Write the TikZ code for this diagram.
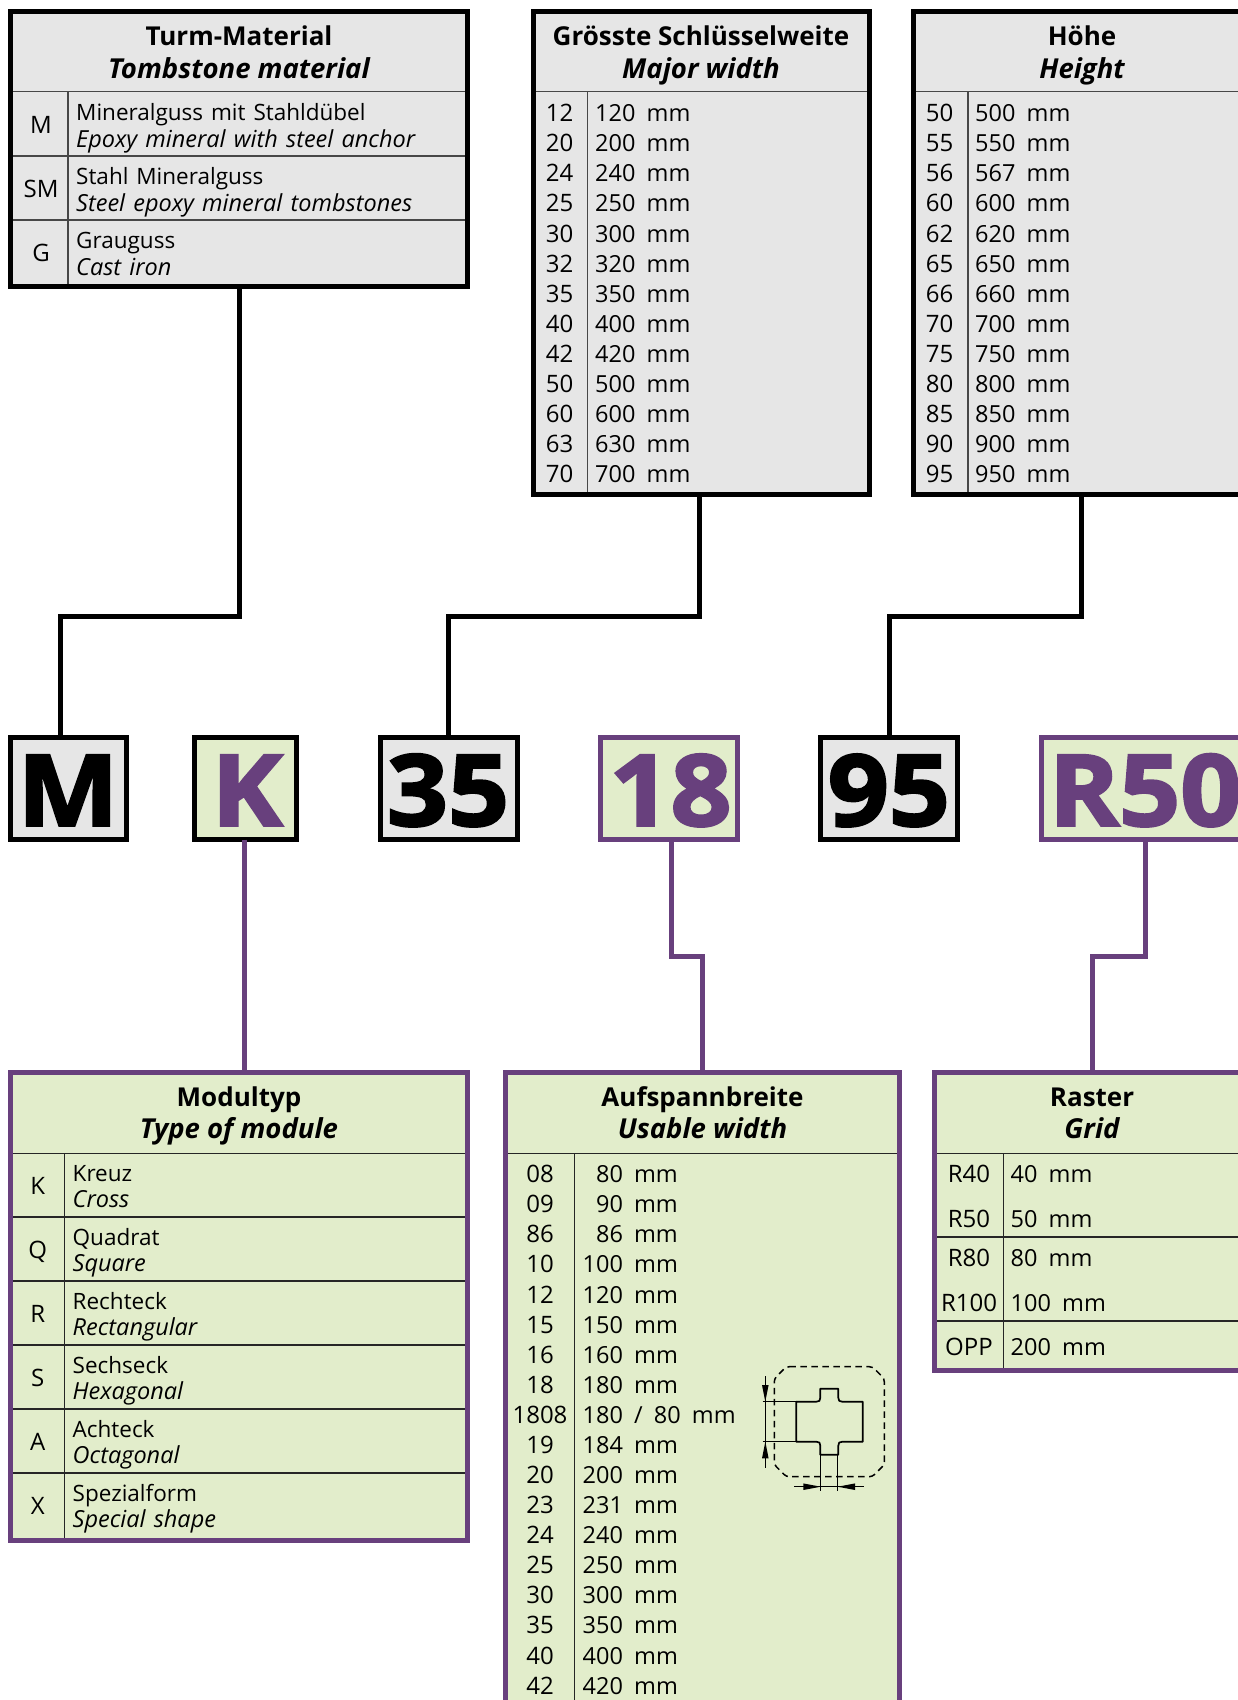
\documentclass[tikz,border=0pt]{standalone}
\usepackage{fontspec}
\setmainfont{Open Sans}
\newfontfamily\heavyfont[BoldFeatures={FakeBold=2.5,FakeStretch=1.08}]{Open Sans}
\newfontfamily\numfont[WordSpace=1.5]{Open Sans}
\newfontfamily\descfont[WordSpace=1.35]{Open Sans}
\usetikzlibrary{calc}
\definecolor{greyfill}{HTML}{E6E6E6}
\definecolor{greenfill}{HTML}{E2EDCB}
\definecolor{purp}{HTML}{68407D}
\tikzset{
  greybox/.style={rectangle,draw=black,fill=greyfill,line width=5pt,inner sep=0pt,outer sep=0pt},
  greenbox/.style={rectangle,draw=purp,fill=greenfill,line width=5pt,inner sep=0pt,outer sep=0pt},
  conblack/.style={draw=black,line width=5pt,line join=miter},
  conpurp/.style={draw=purp,line width=5pt,line join=miter},
  rulegrey/.style={draw=black!72,line width=1.3pt},
  rulegreen/.style={draw=black!85,line width=1.1pt},
  titletxt/.style={anchor=base,inner sep=0pt,yshift=-1pt,font=\fontsize{26}{30}\selectfont\bfseries},
  titleit/.style={anchor=base,inner sep=0pt,yshift=-1pt,font=\fontsize{27.5}{30}\selectfont\bfseries\itshape},
  keytxt/.style={anchor=base,inner sep=0pt,yshift=-1pt,font=\fontsize{24}{27}\selectfont},
  numtxt/.style={anchor=base west,inner sep=0pt,yshift=-1pt,font=\numfont\fontsize{23.5}{27}\selectfont},
  valtxt/.style={anchor=base west,inner sep=0pt,yshift=-1pt,font=\descfont\fontsize{22.5}{27}\selectfont},
  valit/.style={anchor=base west,inner sep=0pt,yshift=-1pt,font=\descfont\fontsize{23.5}{27}\selectfont\itshape},
  bigtxt/.style={anchor=base,inner sep=0pt,font=\fontsize{99}{110}\selectfont\heavyfont\bfseries},
  shapeline/.style={draw=black,line width=1.7pt},
  thinline/.style={draw=black,line width=0.9pt},
  arrowfill/.style={fill=black,draw=none},
}
\begin{document}
\begin{tikzpicture}[x=1pt,y=-1pt]
\useasboundingbox (0,0) rectangle (1238,1700);
\clip (0,0) rectangle (1238,1700);

% upper tables
\node[greybox,minimum width=457pt,minimum height=275pt] (turm) at (239,149) {};
\node[greybox,minimum width=335.5pt,minimum height=482.5pt] (gross) at (701.25,252.75) {};
\node[greybox,minimum width=338pt,minimum height=482.5pt] (hoehe) at (1082,252.75) {};
% lower tables
\node[greenbox,minimum width=457pt,minimum height=468pt] (modul) at (239,1306.5) {};
\node[greenbox,minimum width=393.4pt,minimum height=687.5pt] (auf) at (702.5,1416.25) {};
\node[greenbox,minimum width=315.5pt,minimum height=298pt] (raster) at (1092.25,1221.5) {};

% code boxes
\node[greybox,minimum width=115.5pt,minimum height=102pt] (cM) at (68.25,788.5) {};
\node[greenbox,draw=black,minimum width=101.5pt,minimum height=102pt] (cK) at (245.5,788.5) {};
\node[greybox,minimum width=137pt,minimum height=102pt] (c35) at (448.5,788.5) {};
\node[greenbox,minimum width=137pt,minimum height=102pt] (c18) at (669,788.5) {};
\node[greybox,minimum width=137pt,minimum height=102pt] (c95) at (889.4,788.5) {};
\node[greenbox,minimum width=207pt,minimum height=102pt] (cR) at (1145,788.5) {};
\node[bigtxt] (tM) at (68,825.7) {M};
\node[bigtxt,text=purp] (tK) at (247,825.7) {K};
\node[bigtxt] (t35) at (448,825.7) {35};
\node[bigtxt,text=purp] (t18) at (670.5,825.7) {18};
\node[bigtxt] (t95) at (888.8,825.7) {95};
\node[bigtxt,text=purp] (tR) at (1145,825.7) {R50};

% connectors
\draw[conblack] (turm.south) -- (turm.south |- 0,616) -| ([xshift=-7.5pt]cM.north);
\draw[conblack] ([xshift=-1.5pt]gross.south) -- ([xshift=-1.5pt]gross.south |- 0,616) -| (c35.north);
\draw[conblack] ([xshift=-1pt]hoehe.south) -- ([xshift=-1pt]hoehe.south |- 0,616) -| (c95.north);
\draw[conpurp] ([xshift=-1.5pt]cK.south) -- ([xshift=5pt]modul.north);
\draw[conpurp] ([xshift=2pt]c18.south) -- ([xshift=2pt]c18.south |- 0,956) -| ([xshift=-.5pt]auf.north);
\draw[conpurp] (cR.south) -- (cR.south |- 0,956) -| (raster.north);

% Turm table
\node[titletxt] (turm1) at (239,44.7) {Turm-Material};
\node[titleit] (turm2) at (239,77) {Tombstone material};
\draw[rulegrey] (13,91.5) -- (465,91.5);
\draw[rulegrey] (13,156) -- (465,156);
\draw[rulegrey] (13,220) -- (465,220);
\draw[rulegrey] (68,91.5) -- (68,284);
\foreach \k/\a/\b [count=\i from 0] in {M/Mineralguss mit Stahldübel/Epoxy mineral with steel anchor,SM/Stahl Mineralguss/Steel epoxy mineral tombstones,G/Grauguss/Cast iron}{
  \node[keytxt,name=tk\i] at (41,{132.7+64*\i}) {\k};
  \node[valtxt,name=ta\i] at (76,{119+64*\i}) {\a};
  \node[valit,name=tb\i] at (76,{146+64*\i}) {\b};
}

% Grösste table
\node[titletxt] (gr1) at (701,44.7) {Grösste Schlüsselweite};
\node[titleit] (gr2) at (701,77) {Major width};
\draw[rulegrey] (536,91.5) -- (866.5,91.5);
\draw[rulegrey] (587.8,91.5) -- (587.8,491.5);
\foreach \k/\a [count=\i from 0] in {12/120,20/200,24/240,25/250,30/300,32/320,35/350,40/400,42/420,50/500,60/600,63/630,70/700}{
  \node[keytxt,name=gk\i] at (559.5,{120.7+30.08*\i}) {\k};
  \node[numtxt,name=ga\i] at (595,{120.7+30.08*\i}) {\a{} mm};
}

% Höhe table
\node[titletxt] (ho1) at (1082,44.7) {Höhe};
\node[titleit] (ho2) at (1082,77) {Height};
\draw[rulegrey] (915.5,91.5) -- (1238,91.5);
\draw[rulegrey] (968,91.5) -- (968,491.5);
\foreach \k/\a [count=\i from 0] in {50/500,55/550,56/567,60/600,62/620,65/650,66/660,70/700,75/750,80/800,85/850,90/900,95/950}{
  \node[keytxt,name=hk\i] at (939.5,{120.7+30.08*\i}) {\k};
  \node[numtxt,name=ha\i] at (975,{120.7+30.08*\i}) {\a{} mm};
}

% Modultyp table
\node[titletxt] (mo1) at (239,1105) {Modultyp};
\node[titleit] (mo2) at (239,1137.7) {Type of module};
\draw[rulegreen] (13,1153.5) -- (465,1153.5);
\foreach \yy in {1217,1281,1345,1409,1473} \draw[rulegreen] (13,\yy) -- (465,\yy);
\draw[rulegreen] (64.7,1153.5) -- (64.7,1538);
\foreach \k/\a/\b [count=\i from 0] in {K/Kreuz/Cross,Q/Quadrat/Square,R/Rechteck/Rectangular,S/Sechseck/Hexagonal,A/Achteck/Octagonal,X/Spezialform/Special shape}{
  \node[keytxt,name=mk\i] at (37.7,{1193.3+64*\i}) {\k};
  \node[valtxt,name=ma\i] at (72.5,{1180+64*\i}) {\a};
  \node[valit,name=mb\i] at (72.5,{1206.7+64*\i}) {\b};
}

% Aufspannbreite table
\node[titletxt] (au1) at (702.5,1105) {Aufspannbreite};
\node[titleit] (au2) at (702.5,1137.7) {Usable width};
\draw[rulegreen] (508,1153.5) -- (897,1153.5);
\draw[rulegreen] (574.3,1153.5) -- (574.3,1700);
\foreach \k/\a [count=\i from 0] in {08/\phantom{1}80,09/\phantom{1}90,86/\phantom{1}86,10/100,12/120,15/150,16/160,18/180,1808/{180 / 80},19/184,20/200,23/231,24/240,25/250,30/300,35/350,40/400,42/420}{
  \node[keytxt,name=ak\i] at (540,{1181.7+30.08*\i}) {\k};
  \node[numtxt,name=av\i] at (582.5,{1181.7+30.08*\i}) {\a{} mm};
}

% Raster table
\node[titletxt] (ra1) at (1092,1105) {Raster};
\node[titleit] (ra2) at (1092,1137.7) {Grid};
\draw[rulegreen] (937,1153.5) -- (1238,1153.5);
\draw[rulegreen] (937,1237) -- (1238,1237);
\draw[rulegreen] (937,1321) -- (1238,1321);
\draw[rulegreen] (1003.3,1153.5) -- (1003.3,1368);
\foreach \k/\a/\yy [count=\i from 0] in {R40/40/1181.7,R50/50/1226,R80/80/1265.7,R100/100/1310,OPP/200/1354}{
  \node[keytxt,name=rk\i] at (969,\yy) {\k};
  \node[numtxt,name=rv\i] at (1010.5,\yy) {\a{} mm};
}

% icon
\draw[draw=black,line width=1.5pt,dash pattern=on 6.5pt off 4.5pt,rounded corners=3pt]
  (786.3,1366.7) -- (872.3,1366.7) -- (884.3,1378.7) -- (884.3,1464.7) -- (872.3,1476.7)
  -- (786.3,1476.7) -- (774.3,1464.7) -- (774.3,1378.7) -- cycle;
\draw[shapeline,line join=round]
  (796.3,1401.7) -- (816.3,1401.7) .. controls (819.3,1401.7) and (820.3,1400.7) .. (820.3,1397.7)
  -- (820.3,1388.7) -- (838.3,1388.7) -- (838.3,1397.7) .. controls (838.3,1400.7) and (839.3,1401.7) .. (842.3,1401.7)
  -- (862.7,1401.7) -- (862.7,1441.7) -- (842.3,1441.7) .. controls (839.3,1441.7) and (838.3,1442.7) .. (838.3,1445.7)
  -- (838.3,1454.7) -- (820.3,1454.7) -- (820.3,1445.7) .. controls (820.3,1442.7) and (819.3,1441.7) .. (816.3,1441.7)
  -- (796.3,1441.7) -- cycle;
\draw[thinline] (762.7,1401.7) -- (796.3,1401.7);
\draw[thinline] (762.7,1441.7) -- (796.3,1441.7);
\draw[thinline] (765.3,1376) -- (765.3,1467.7);
\fill[arrowfill] (765.3,1401.7) -- (762,1385) -- (768.6,1385) -- cycle;
\fill[arrowfill] (765.3,1441.7) -- (762,1458.3) -- (768.6,1458.3) -- cycle;
\draw[thinline] (820.7,1454.7) -- (820.7,1490.7);
\draw[thinline] (837.7,1454.7) -- (837.7,1490.7);
\draw[thinline] (794,1486.7) -- (864.3,1486.7);
\fill[arrowfill] (820.7,1486.7) -- (803.3,1483.4) -- (803.3,1490) -- cycle;
\fill[arrowfill] (837.7,1486.7) -- (855,1483.4) -- (855,1490) -- cycle;
\end{tikzpicture}
\end{document}
